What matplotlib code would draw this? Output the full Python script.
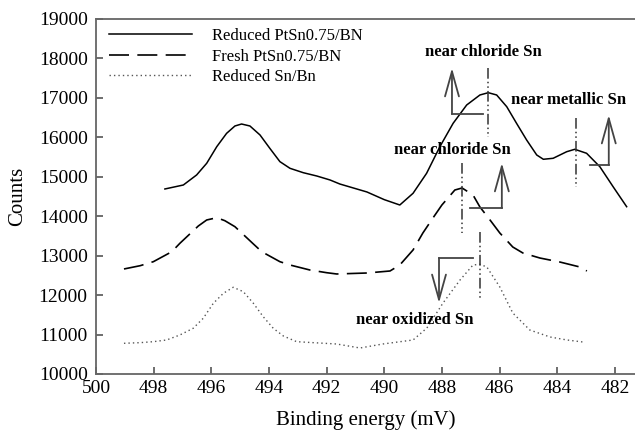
import matplotlib
matplotlib.use("Agg")
import matplotlib.pyplot as plt

plt.rcParams["font.family"] = ["Liberation Serif", "DejaVu Serif"]

# Reduced PtSn0.75/BN
reduced_x = [497.61, 496.97, 496.51, 496.16, 495.81, 495.47, 495.18, 494.95, 494.66,
             494.31, 493.97, 493.62, 493.27, 492.81, 492.34, 491.88, 491.54, 490.60,
             490.0, 489.46, 489.0, 488.53, 488.07, 487.61, 487.14, 486.68, 486.39,
             486.10, 485.75, 485.41, 485.06, 484.71, 484.48, 484.14, 483.67, 483.39,
             482.98, 482.52, 482.06, 481.59]
reduced_y = [14690, 14791, 15045, 15341, 15763, 16100, 16287, 16337, 16287,
             16059, 15721, 15383, 15214, 15103, 15019, 14918, 14816, 14614,
             14420, 14284, 14581, 15088, 15762, 16355, 16819, 17073, 17131,
             17073, 16776, 16355, 15932, 15552, 15443, 15468, 15635, 15696,
             15595, 15255, 14748, 14241]

# Fresh PtSn0.75/BN
fresh_x = [499.03, 498.47, 498.01, 497.37, 497.09, 496.45, 496.16, 495.81, 495.53,
           495.18, 494.54, 494.25, 493.62, 493.27, 492.58, 492.0, 491.65, 490.60,
           489.80, 489.46, 489.0, 488.66, 488.31, 488.0, 487.55, 487.3, 486.92,
           486.68, 486.33, 485.99, 485.54, 485.19, 484.60, 483.91, 483.21, 482.97]
fresh_y = [12662, 12745, 12847, 13100, 13313, 13752, 13904, 13962, 13886,
           13734, 13296, 13100, 12847, 12763, 12636, 12568, 12535, 12560,
           12611, 12763, 13144, 13574, 13955, 14284, 14664, 14715, 14538,
           14233, 13904, 13574, 13219, 13067, 12940, 12839, 12712, 12611]

# Reduced Sn/Bn
sn_x = [499.03, 498.47, 498.01, 497.55, 497.09, 496.63, 496.28, 495.93, 495.58,
        495.24, 494.89, 494.54, 494.20, 493.85, 493.50, 493.04, 492.46, 491.65,
        490.84, 490.05, 489.00, 488.52, 487.96, 487.37, 486.92, 486.68, 486.44,
        485.99, 485.54, 484.95, 484.25, 483.66, 483.11]
sn_y = [10778, 10794, 10819, 10862, 10989, 11158, 11412, 11792, 12046,
        12198, 12087, 11792, 11453, 11158, 10963, 10819, 10794, 10760,
        10659, 10760, 10862, 11166, 11800, 12383, 12763, 12780, 12712,
        12205, 11546, 11115, 10938, 10862, 10811]

labels = ["Reduced PtSn0.75/BN", "Fresh PtSn0.75/BN", "Reduced Sn/Bn"]

# annotations
note_text = ["near chloride Sn", "near metallic Sn", "near chloride Sn", "near oxidized Sn"]
note_xy = [(486.57, 18162), (483.61, 16946), (487.65, 15678), (488.93, 11369)]
marker_x = [486.4, 483.35, 487.30, 486.68]
marker_y = [(17757, 16008), (16489, 14741), (15349, 13574), (13600, 11876)]
arrow_start = [(486.57, 16591), (482.87, 15298), (487.03, 14208), (486.92, 12940)]
arrow_corner = [(487.65, 16591), (482.21, 15298), (485.92, 14208), (488.10, 12940)]
arrow_tip = [(487.65, 17757), (482.21, 16565), (485.92, 15349), (488.10, 11800)]

fig = plt.figure(figsize=(6.35, 4.37), dpi=100)
ax = fig.add_axes([0.1512, 0.1442, 0.8488, 0.8124])

l1, = ax.plot(reduced_x, reduced_y, color="black", lw=1.1, label=labels[0])
l2, = ax.plot(fresh_x, fresh_y, color="black", lw=1.2, label=labels[1])
l2.set_dashes((12, 5))
l3, = ax.plot(sn_x, sn_y, color="#555555", lw=1.0, label=labels[2])
l3.set_dashes((1, 2.2))

arrow_color = "#444444"
for i in range(len(note_text)):
    ax.text(note_xy[i][0], note_xy[i][1], note_text[i], ha="center", va="center",
            fontsize=12, fontweight="bold")
    mk, = ax.plot([marker_x[i], marker_x[i]], marker_y[i], color="#333333", lw=1.1)
    mk.set_dashes((7, 2, 1, 2, 1, 2))
    ax.plot([arrow_start[i][0], arrow_corner[i][0]], [arrow_start[i][1], arrow_corner[i][1]],
            color=arrow_color, lw=1.3)
    ax.annotate("", xy=arrow_tip[i], xytext=arrow_corner[i],
                arrowprops=dict(arrowstyle="->,head_length=1.8,head_width=0.5",
                                color=arrow_color, lw=1.3, shrinkA=0, shrinkB=0,
                                mutation_scale=10))

ax.set_xlim(500, 481.3)
ax.set_ylim(10000, 19000)
ax.set_xticks(range(500, 481, -2))
ax.set_yticks(range(10000, 19001, 1000))
ax.tick_params(direction="in", length=5, width=1.2, color="#555555", labelsize=14, pad=4)
ax.tick_params(axis="y", pad=6)

ax.spines["right"].set_visible(False)
for s in ["left", "bottom", "top"]:
    ax.spines[s].set_color("#666666")
    ax.spines[s].set_linewidth(1.3)

ax.set_xlabel("Binding energy (mV)", fontsize=15, labelpad=10)
ax.set_ylabel("Counts", fontsize=15, labelpad=8)

ax.legend(loc="upper left", bbox_to_anchor=(0.024, 0.975), frameon=False, fontsize=12,
          handlelength=5.0, handletextpad=1.2, labelspacing=0.28, borderpad=0,
          borderaxespad=0)

fig.savefig("out.png", dpi=100)
